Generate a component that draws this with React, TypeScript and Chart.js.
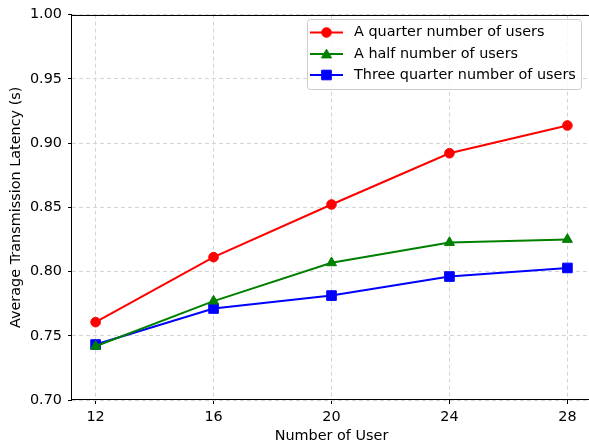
import React, { useEffect, useRef } from "react";
import { Chart, registerables } from "chart.js";

Chart.register(...registerables);

const users = [12, 16, 20, 24, 28];
const quarterUsers = [0.7606, 0.8112, 0.8522, 0.8921, 0.9137];
const halfUsers = [0.7418, 0.7770, 0.8068, 0.8226, 0.8250];
const threeQuarterUsers = [0.7432, 0.7712, 0.7813, 0.7961, 0.8028];
const yTicks = [0.7, 0.75, 0.8, 0.85, 0.9, 0.95, 1.0];
const seriesLabels = ["A quarter number of users", "A half number of users", "Three quarter number of users"];

const FONT = "'DejaVu Sans', sans-serif";
const FS = 14.4;

const framePlugin = {
  id: "frame",
  afterDatasetsDraw(chart: any) {
    const { ctx, chartArea: a } = chart;
    ctx.save();
    ctx.strokeStyle = "#000";
    ctx.lineWidth = 1;
    ctx.strokeRect(Math.round(a.left) - 0.5, Math.round(a.top) + 0.5, Math.round(a.right - a.left) + 1, Math.round(a.bottom - a.top) - 1);
    ctx.restore();
  },
};

function drawMarker(ctx: CanvasRenderingContext2D, style: string, x: number, y: number, r: number) {
  ctx.beginPath();
  if (style === "circle") {
    ctx.arc(x, y, r, 0, Math.PI * 2);
  } else if (style === "rect") {
    const s = Math.SQRT1_2 * r;
    ctx.rect(x - s, y - s, 2 * s, 2 * s);
  } else if (style === "triangle") {
    ctx.moveTo(x, y - r);
    ctx.lineTo(x + Math.sin(Math.PI * 2 / 3) * r, y + 0.5 * r);
    ctx.lineTo(x - Math.sin(Math.PI * 2 / 3) * r, y + 0.5 * r);
    ctx.closePath();
  }
  ctx.fill();
  ctx.stroke();
}

const legendPlugin = {
  id: "mplLegend",
  afterDraw(chart: any) {
    const { ctx } = chart;
    const x0 = 307.5, y0 = 19.5, w = 274, h = 70;
    ctx.save();
    ctx.beginPath();
    const r = 3;
    ctx.moveTo(x0 + r, y0);
    ctx.lineTo(x0 + w - r, y0);
    ctx.arcTo(x0 + w, y0, x0 + w, y0 + r, r);
    ctx.lineTo(x0 + w, y0 + h - r);
    ctx.arcTo(x0 + w, y0 + h, x0 + w - r, y0 + h, r);
    ctx.lineTo(x0 + r, y0 + h);
    ctx.arcTo(x0, y0 + h, x0, y0 + h - r, r);
    ctx.lineTo(x0, y0 + r);
    ctx.arcTo(x0, y0, x0 + r, y0, r);
    ctx.closePath();
    ctx.fillStyle = "rgba(255,255,255,0.8)";
    ctx.fill();
    ctx.strokeStyle = "#cccccc";
    ctx.lineWidth = 1;
    ctx.stroke();
    const rows = [32.5, 54, 75];
    chart.data.datasets.forEach((ds: any, i: number) => {
      const y = rows[i];
      ctx.beginPath();
      ctx.strokeStyle = ds.borderColor;
      ctx.lineWidth = 2;
      ctx.moveTo(310, y);
      ctx.lineTo(343, y);
      ctx.stroke();
      ctx.fillStyle = ds.backgroundColor;
      ctx.strokeStyle = ds.borderColor;
      ctx.lineWidth = 1;
      const yy = ds.pointStyle === "triangle" ? y + 1 : y;
      drawMarker(ctx, ds.pointStyle, 326.5, yy, ds.pointRadius);
      ctx.fillStyle = "#000";
      ctx.font = `${FS}px ${FONT}`;
      ctx.textBaseline = "middle";
      ctx.textAlign = "left";
      ctx.fillText(ds.label, 354, y);
    });
    ctx.restore();
  },
};

export default function App() {
  const ref = useRef<HTMLCanvasElement>(null);
  useEffect(() => {
    if (!ref.current) return;
    const mk = (label: string, vals: number[], color: string, style: string, radius: number) => ({
      label,
      data: users.map((u, i) => ({ x: u, y: vals[i] })),
      borderColor: color,
      backgroundColor: color,
      borderWidth: 2,
      pointStyle: style,
      pointRadius: radius,
      pointHoverRadius: radius,
      pointBorderWidth: 1,
      tension: 0,
    });
    const gridOpts: any = {
      color: "#d4d4d4",
      tickColor: "#000",
      tickBorderDash: [],
      tickLength: 4,
      lineWidth: 1,
    };
    const borderOpts: any = { display: false, dash: [4, 3] };
    const chart = new Chart(ref.current, {
      type: "line",
      data: {
        datasets: [
          mk(seriesLabels[0], quarterUsers, "#ff0000", "circle", 4.8),
          mk(seriesLabels[1], halfUsers, "#008000", "triangle", 5.8),
          mk(seriesLabels[2], threeQuarterUsers, "#0000ff", "rect", 6.8),
        ],
      },
      options: {
        animation: false,
        responsive: false,
        devicePixelRatio: 1,
        layout: { autoPadding: false, padding: { top: 14, right: 2, left: 0, bottom: 0 } },
        plugins: { legend: { display: false }, tooltip: { enabled: false } },
        scales: {
          x: {
            type: "linear",
            min: 11.2,
            max: 28.8,
            afterBuildTicks: (s: any) => {
              s.ticks = users.map((v) => ({ value: v }));
            },
            afterFit: (s: any) => {
              s.height = 43;
              s.paddingLeft = 0;
              s.paddingRight = 0;
            },
            ticks: {
              color: "#000",
              font: { family: FONT, size: FS },
              padding: 5,
              maxRotation: 0,
              callback: (v: any) => String(v),
            },
            grid: gridOpts,
            border: borderOpts,
            title: {
              display: true,
              text: "Number of User",
              color: "#000",
              font: { family: FONT, size: FS, lineHeight: 1 },
              padding: 0,
            },
          },
          y: {
            type: "linear",
            min: 0.7,
            max: 1.0,
            afterBuildTicks: (s: any) => {
              s.ticks = yTicks.map((v) => ({ value: v }));
            },
            afterFit: (s: any) => {
              s.width = 72;
            },
            ticks: {
              color: "#000",
              font: { family: FONT, size: FS },
              padding: 6,
              callback: (v: any) => Number(v).toFixed(2),
            },
            grid: gridOpts,
            border: borderOpts,
            title: {
              display: true,
              text: "Average Transmission Latency (s)",
              color: "#000",
              font: { family: FONT, size: FS, lineHeight: 1.2 },
              padding: { top: 8, bottom: 0 },
            },
          },
        },
      },
      plugins: [framePlugin, legendPlugin],
    } as any);
    return () => chart.destroy();
  }, []);
  return (
    <div style={{ position: "absolute", left: 0, top: 0, width: 589, height: 443, overflow: "hidden", background: "#fff" }}>
      <canvas ref={ref} width={593} height={443} style={{ display: "block" }} />
    </div>
  );
}
